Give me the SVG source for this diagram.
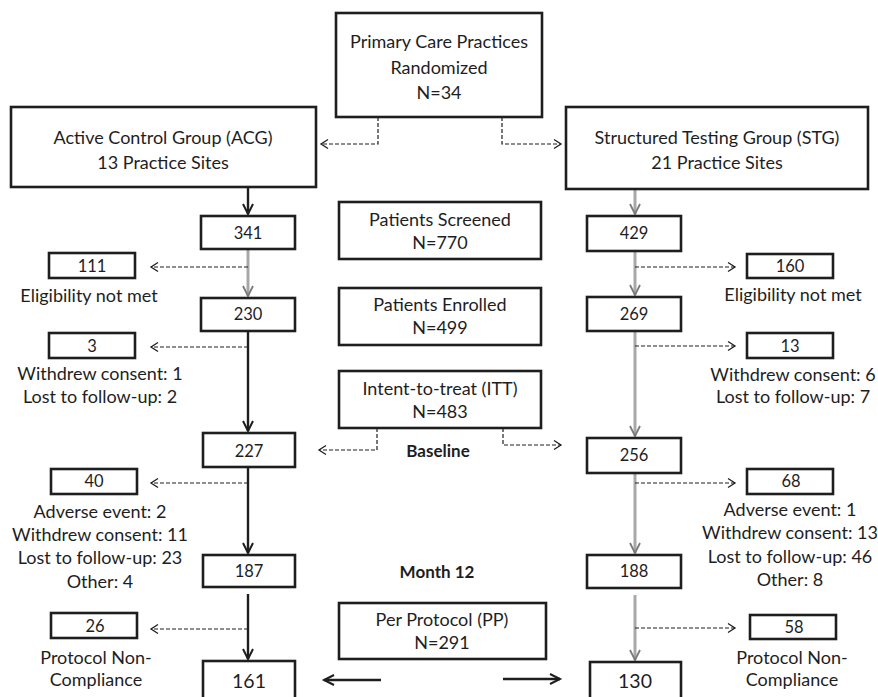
<svg xmlns="http://www.w3.org/2000/svg" width="878" height="697" viewBox="0 0 878 697">
<defs>
<style>
.box{fill:#fff;stroke:#1e1e1e;stroke-width:2.6}
.t{font-family:Lato,"Open Sans",sans-serif;font-size:18px;fill:#1e1e1e;text-anchor:middle}
.n{font-size:16.5px}
.b{font-weight:bold;font-size:17px}
.big{font-size:19.5px}
.dash{fill:none;stroke:#1e1e1e;stroke-width:1.2;stroke-dasharray:4 2}
.dark{fill:none;stroke:#1e1e1e;stroke-width:2.4}
.gray{fill:none;stroke:#a8a8a8;stroke-width:3}
</style>
<marker id="ad" markerUnits="userSpaceOnUse" markerWidth="14" markerHeight="14" refX="10" refY="6" orient="auto"><path d="M3,1.5 L10,6 L3,10.5" fill="none" stroke="#1e1e1e" stroke-width="1.3"/></marker>
<marker id="as" markerUnits="userSpaceOnUse" markerWidth="16" markerHeight="16" refX="11" refY="7" orient="auto"><path d="M1,2 L11,7 L1,12" fill="none" stroke="#1e1e1e" stroke-width="2"/></marker>
<marker id="ag" markerUnits="userSpaceOnUse" markerWidth="16" markerHeight="16" refX="11" refY="7" orient="auto"><path d="M1,2 L11,7 L1,12" fill="none" stroke="#7a7a7a" stroke-width="1.8"/></marker>
</defs>

<g id="connectors">
<path class="dash" d="M378,117 V144 H321" marker-end="url(#ad)"/>
<path class="dash" d="M502,117 V144 H561" marker-end="url(#ad)"/>
<line class="dark" x1="248" y1="187" x2="248" y2="214" marker-end="url(#as)"/>
<line class="gray" x1="248" y1="250" x2="248" y2="296" marker-end="url(#ag)"/>
<line class="dark" x1="248" y1="331" x2="248" y2="431" marker-end="url(#as)"/>
<line class="dark" x1="248" y1="467" x2="248" y2="553" marker-end="url(#as)"/>
<line class="dark" x1="248" y1="594" x2="248" y2="659" marker-end="url(#as)"/>
<path class="dash" d="M248,267 H151" marker-end="url(#ad)"/>
<path class="dash" d="M248,347 H151" marker-end="url(#ad)"/>
<path class="dash" d="M248,483 H151" marker-end="url(#ad)"/>
<path class="dash" d="M248,629 H151" marker-end="url(#ad)"/>
<line class="gray" x1="635" y1="190" x2="635" y2="214" marker-end="url(#ag)"/>
<line class="gray" x1="635" y1="252" x2="635" y2="295" marker-end="url(#ag)"/>
<line class="gray" x1="635" y1="331" x2="635" y2="436" marker-end="url(#ag)"/>
<line class="gray" x1="635" y1="473" x2="635" y2="553" marker-end="url(#ag)"/>
<line class="gray" x1="635" y1="595" x2="635" y2="660" marker-end="url(#ag)"/>
<path class="dash" d="M635,267 H735" marker-end="url(#ad)"/>
<path class="dash" d="M635,346 H735" marker-end="url(#ad)"/>
<path class="dash" d="M635,483 H735" marker-end="url(#ad)"/>
<path class="dash" d="M635,628 H735" marker-end="url(#ad)"/>
<path class="dash" d="M377,428 V450 H319" marker-end="url(#ad)"/>
<path class="dash" d="M503,428 V445 H561" marker-end="url(#ad)"/>
<line class="dark" x1="381" y1="680" x2="324" y2="680" marker-end="url(#as)"/>
<line class="dark" x1="503" y1="679" x2="560" y2="679" marker-end="url(#as)"/>
</g>

<g id="randomized"><rect class="box" x="336" y="13" width="206" height="104"/>
<text class="t" x="439" y="48">Primary Care Practices</text><text class="t" x="439" y="74">Randomized</text><text class="t" x="439" y="99">N=34</text></g>
<g id="acg"><rect class="box" x="11" y="107" width="305" height="80"/>
<text class="t" x="163" y="144">Active Control Group (ACG)</text><text class="t" x="163" y="169">13 Practice Sites</text></g>
<g id="stg"><rect class="box" x="566" y="107" width="302" height="82"/>
<text class="t" x="717" y="144">Structured Testing Group (STG)</text><text class="t" x="717" y="169">21 Practice Sites</text></g>

<g id="screened"><rect class="box" x="339" y="202" width="202" height="57"/>
<text class="t" x="440" y="226">Patients Screened</text><text class="t" x="440" y="249">N=770</text></g>
<g id="enrolled"><rect class="box" x="339" y="288" width="202" height="57"/>
<text class="t" x="440" y="311">Patients Enrolled</text><text class="t" x="440" y="334">N=499</text></g>
<g id="itt"><rect class="box" x="339" y="371" width="202" height="57"/>
<text class="t" x="440" y="395">Intent-to-treat (ITT)</text><text class="t" x="440" y="418">N=483</text></g>
<g id="baseline"><text class="t b" x="438" y="457">Baseline</text></g>
<g id="month12"><text class="t b" x="437" y="578">Month 12</text></g>
<g id="pp"><rect class="box" x="339" y="603" width="207" height="56"/>
<text class="t" x="442" y="626">Per Protocol (PP)</text><text class="t" x="442" y="649">N=291</text></g>

<g id="a341"><rect class="box" x="201" y="216" width="94" height="33"/><text class="t n" x="248" y="239">341</text></g>
<g id="a111"><rect class="box" x="49" y="253" width="86" height="25"/><text class="t n" x="92" y="272">111</text>
<text class="t" x="89" y="302">Eligibility not met</text></g>
<g id="a230"><rect class="box" x="201" y="298" width="94" height="33"/><text class="t n" x="248" y="320">230</text></g>
<g id="a3"><rect class="box" x="49" y="333" width="86" height="25"/><text class="t n" x="92" y="352">3</text>
<text class="t" x="100" y="380">Withdrew consent: 1</text><text class="t" x="100" y="403">Lost to follow-up: 2</text></g>
<g id="a227"><rect class="box" x="203" y="433" width="92" height="34"/><text class="t n" x="249" y="457">227</text></g>
<g id="a40"><rect class="box" x="51" y="469" width="86" height="25"/><text class="t n" x="94" y="487">40</text>
<text class="t" x="100" y="518">Adverse event: 2</text><text class="t" x="100" y="541">Withdrew consent: 11</text><text class="t" x="100" y="564">Lost to follow-up: 23</text><text class="t" x="100" y="588">Other: 4</text></g>
<g id="a187"><rect class="box" x="203" y="555" width="92" height="32"/><text class="t n" x="249" y="577">187</text></g>
<g id="a26"><rect class="box" x="51" y="613" width="86" height="25"/><text class="t n" x="95" y="632">26</text>
<text class="t" x="96" y="664">Protocol Non-</text><text class="t" x="96" y="686">Compliance</text></g>
<g id="a161"><rect class="box" x="203" y="661" width="92" height="40"/><text class="t big" x="249" y="688">161</text></g>

<g id="s429"><rect class="box" x="587" y="216" width="94" height="35"/><text class="t n" x="634" y="239">429</text></g>
<g id="s160"><rect class="box" x="747" y="254" width="86" height="24"/><text class="t n" x="790" y="272">160</text>
<text class="t" x="793" y="301">Eligibility not met</text></g>
<g id="s269"><rect class="box" x="587" y="297" width="94" height="34"/><text class="t n" x="634" y="320">269</text></g>
<g id="s13"><rect class="box" x="747" y="333" width="86" height="25"/><text class="t n" x="790" y="352">13</text>
<text class="t" x="793" y="381">Withdrew consent: 6</text><text class="t" x="793" y="403">Lost to follow-up: 7</text></g>
<g id="s256"><rect class="box" x="587" y="438" width="94" height="35"/><text class="t n" x="634" y="461">256</text></g>
<g id="s68"><rect class="box" x="747" y="469" width="86" height="25"/><text class="t n" x="791" y="487">68</text>
<text class="t" x="790" y="516">Adverse event: 1</text><text class="t" x="790" y="539">Withdrew consent: 13</text><text class="t" x="790" y="563">Lost to follow-up: 46</text><text class="t" x="790" y="586">Other: 8</text></g>
<g id="s188"><rect class="box" x="587" y="555" width="94" height="33"/><text class="t n" x="634" y="577">188</text></g>
<g id="s58"><rect class="box" x="750" y="615" width="86" height="24"/><text class="t n" x="794" y="633">58</text>
<text class="t" x="792" y="664">Protocol Non-</text><text class="t" x="792" y="686">Compliance</text></g>
<g id="s130"><rect class="box" x="590" y="662" width="91" height="40"/><text class="t big" x="635" y="688">130</text></g>
</svg>
